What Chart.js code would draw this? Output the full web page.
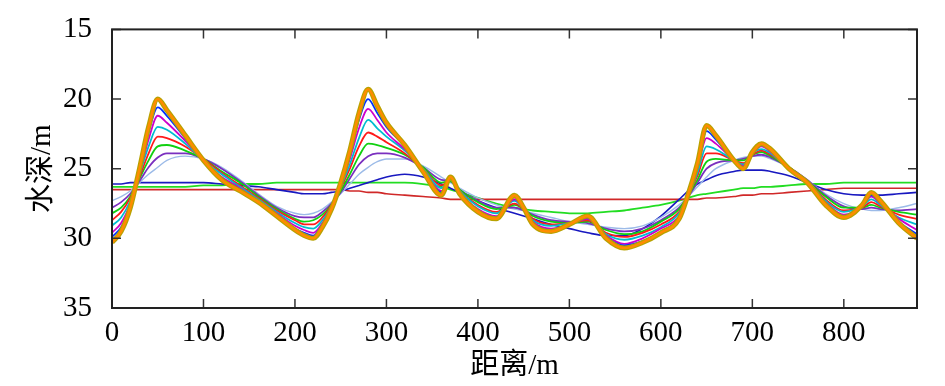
<!DOCTYPE html>
<html lang="zh-CN">

<head>
    <meta charset="UTF-8">
    <title>水深剖面</title>
    <style>
        body {
            margin: 0;
            padding: 0;
            background: #fff;
        }
    </style>
</head>

<body>
    <canvas id="depthChart" width="945" height="386"></canvas>
    <script src="https://cdn.jsdelivr.net/npm/chart.js"></script>
    <script>
        // 距离 (m)
        const distance = [0, 10, 20, 30, 40, 50, 60, 80, 100, 120, 140, 160, 180, 200, 210, 220, 230, 240, 250, 260,
            270, 280, 290, 300, 320, 340, 360, 370, 380, 400, 420, 440, 450, 460, 480, 500, 520, 540, 560, 580,
            600, 620, 630, 640, 650, 660, 680, 690, 700, 710, 720, 740, 760, 780, 800, 820, 830, 840, 860, 880];

        // 水深 (m), 从初始到最终
        const depthStart = [26.3, 26.3, 26.3, 26.3, 26.3, 26.3, 26.3, 26.3, 26.2, 26.2, 26.1, 26.1, 26.0, 26.0, 26.0, 26.0, 26.0, 26.0, 26.0, 26.0,
            26.0, 26.0, 26.0, 26.0, 26.0, 26.1, 26.3, 26.5, 26.7, 27.1, 27.5, 27.8, 27.9, 28.0, 28.1, 28.2, 28.2, 28.1, 28.0, 27.8,
            27.6, 27.3, 27.1, 26.9, 26.8, 26.7, 26.5, 26.4, 26.4, 26.3, 26.3, 26.2, 26.1, 26.1, 26.0, 26.0, 26.0, 26.0, 26.0, 26.0];
        const depthRed = [26.5, 26.5, 26.5, 26.5, 26.5, 26.5, 26.5, 26.5, 26.5, 26.5, 26.5, 26.5, 26.5, 26.5, 26.5, 26.5, 26.5, 26.5, 26.5, 26.6,
            26.6, 26.7, 26.7, 26.8, 26.9, 27.0, 27.1, 27.2, 27.2, 27.2, 27.2, 27.2, 27.2, 27.2, 27.2, 27.2, 27.2, 27.2, 27.2, 27.2,
            27.2, 27.2, 27.2, 27.2, 27.1, 27.1, 27.0, 26.9, 26.9, 26.8, 26.8, 26.7, 26.6, 26.5, 26.4, 26.4, 26.4, 26.4, 26.4, 26.4];
        const depthBlue = [26.1, 26.1, 26.0, 26.0, 26.0, 26.0, 26.0, 26.0, 26.0, 26.1, 26.2, 26.3, 26.5, 26.7, 26.8, 26.8, 26.8, 26.7, 26.6, 26.4,
            26.2, 26.0, 25.8, 25.6, 25.4, 25.6, 26.1, 26.4, 26.7, 27.3, 27.8, 28.2, 28.4, 28.6, 29.0, 29.3, 29.6, 29.8, 29.8, 29.3,
            28.4, 27.2, 26.6, 26.1, 25.8, 25.5, 25.2, 25.1, 25.1, 25.1, 25.2, 25.5, 26.0, 26.5, 26.8, 26.9, 26.9, 26.9, 26.8, 26.7];
        const depthLight = [27.3, 27.0, 26.6, 26.0, 25.4, 24.9, 24.4, 24.1, 24.3, 24.9, 25.8, 26.8, 27.7, 28.2, 28.3, 28.2, 27.9, 27.4, 26.8, 26.1,
            25.4, 24.9, 24.5, 24.3, 24.3, 24.8, 25.6, 26.0, 26.4, 27.1, 27.6, 27.9, 28.0, 28.2, 28.5, 28.8, 29.0, 29.2, 29.3, 29.1,
            28.5, 27.6, 27.0, 26.3, 25.6, 25.0, 24.4, 24.2, 24.1, 24.1, 24.3, 24.9, 25.8, 26.8, 27.5, 27.9, 28.0, 28.0, 27.8, 27.5];
        const depthStep1 = [27.8, 27.4, 26.8, 25.9, 24.9, 24.2, 23.9, 23.9, 24.3, 25.0, 25.9, 26.9, 27.8, 28.4, 28.5, 28.5, 28.1, 27.5, 26.7, 25.7,
            24.7, 24.1, 23.9, 23.9, 24.2, 24.9, 25.8, 25.9, 26.5, 27.3, 27.8, 27.8, 28.0, 28.3, 28.7, 28.8, 28.9, 29.3, 29.5, 29.3,
            28.7, 27.8, 27.0, 26.0, 25.0, 24.6, 24.4, 24.3, 24.1, 24.0, 24.2, 24.9, 25.8, 26.9, 27.7, 27.9, 27.8, 27.9, 28.0, 27.9];
        const depthStep2 = [28.2, 27.8, 27.0, 25.7, 24.4, 23.4, 23.3, 23.7, 24.3, 25.2, 26.0, 27.0, 27.9, 28.6, 28.8, 28.7, 28.3, 27.6, 26.6, 25.4,
            24.1, 23.2, 23.3, 23.5, 24.0, 24.9, 26.0, 25.9, 26.5, 27.4, 27.9, 27.6, 27.9, 28.4, 28.8, 28.9, 28.8, 29.4, 29.7, 29.5,
            28.8, 27.9, 26.9, 25.8, 24.5, 24.3, 24.4, 24.4, 24.0, 23.8, 24.1, 24.9, 25.9, 27.0, 27.8, 27.8, 27.6, 27.8, 28.1, 28.3];
        const depthStep3 = [28.7, 28.1, 27.1, 25.6, 23.9, 22.7, 22.8, 23.4, 24.3, 25.3, 26.2, 27.1, 28.0, 28.7, 29.0, 29.0, 28.5, 27.6, 26.4, 25.0,
            23.4, 22.4, 22.7, 23.1, 23.9, 25.0, 26.2, 25.8, 26.6, 27.6, 28.1, 27.5, 27.9, 28.6, 29.0, 28.9, 28.7, 29.6, 29.9, 29.6,
            29.0, 28.1, 26.9, 25.5, 23.9, 23.9, 24.4, 24.6, 24.0, 23.7, 24.0, 24.9, 25.9, 27.2, 28.0, 27.8, 27.4, 27.7, 28.3, 28.6];
        const depthStep4 = [29.1, 28.5, 27.3, 25.4, 23.4, 22.0, 22.2, 23.2, 24.4, 25.4, 26.3, 27.2, 28.1, 28.9, 29.2, 29.3, 28.7, 27.7, 26.3, 24.7,
            22.8, 21.5, 22.1, 22.7, 23.7, 25.0, 26.4, 25.8, 26.6, 27.7, 28.2, 27.3, 27.9, 28.7, 29.1, 28.9, 28.6, 29.7, 30.1, 29.8,
            29.2, 28.2, 26.9, 25.3, 23.4, 23.6, 24.4, 24.7, 23.9, 23.6, 23.9, 25.0, 25.9, 27.3, 28.1, 27.7, 27.2, 27.6, 28.5, 29.0];
        const depthStep5 = [29.6, 28.9, 27.5, 25.3, 22.9, 21.2, 21.7, 23.0, 24.4, 25.6, 26.4, 27.3, 28.2, 29.1, 29.4, 29.6, 28.9, 27.8, 26.2, 24.3,
            22.1, 20.7, 21.5, 22.4, 23.6, 25.1, 26.6, 25.7, 26.7, 27.9, 28.4, 27.2, 27.9, 28.8, 29.3, 29.0, 28.6, 29.8, 30.4, 30.0,
            29.3, 28.4, 26.9, 25.0, 22.8, 23.2, 24.4, 24.8, 23.9, 23.4, 23.8, 25.0, 26.0, 27.4, 28.3, 27.7, 27.0, 27.5, 28.6, 29.4];
        const depthStep6 = [29.9, 29.2, 27.7, 25.1, 22.4, 20.6, 21.2, 22.8, 24.4, 25.7, 26.5, 27.3, 28.3, 29.3, 29.6, 29.8, 29.0, 27.8, 26.1, 24.0,
            21.5, 20.0, 21.0, 22.0, 23.4, 25.2, 26.7, 25.6, 26.8, 28.0, 28.5, 27.0, 27.8, 28.9, 29.4, 29.0, 28.5, 29.9, 30.5, 30.2,
            29.5, 28.5, 26.8, 24.8, 22.3, 22.9, 24.4, 24.9, 23.8, 23.3, 23.7, 25.0, 26.0, 27.5, 28.4, 27.6, 26.9, 27.4, 28.8, 29.7];
        const depthFinal = [30.3, 29.5, 27.8, 25.0, 22.0, 20.0, 20.8, 22.6, 24.4, 25.8, 26.6, 27.4, 28.4, 29.4, 29.8, 30.0, 29.2, 27.9, 26.0, 23.7,
            21.0, 19.3, 20.5, 21.7, 23.3, 25.2, 26.9, 25.6, 26.8, 28.1, 28.6, 26.9, 27.8, 29.0, 29.5, 29.0, 28.4, 30.0, 30.7, 30.3,
            29.6, 28.6, 26.8, 24.6, 21.9, 22.6, 24.4, 25.0, 23.8, 23.2, 23.6, 25.0, 26.0, 27.6, 28.5, 27.6, 26.7, 27.3, 28.9, 30.0];

        const xTicks = [0, 100, 200, 300, 400, 500, 600, 700, 800];
        const yTicks = [15, 20, 25, 30, 35];

        const profiles = [
            { values: depthStart, color: '#22dd22', width: 1.8 },
            { values: depthRed, color: '#d02828', width: 1.6 },
            { values: depthBlue, color: '#1818c0', width: 1.6 },
            { values: depthLight, color: '#9cbbe8', width: 1.4 },
            { values: depthStep1, color: '#7a2fbf', width: 1.8 },
            { values: depthStep2, color: '#10d010', width: 1.8 },
            { values: depthStep3, color: '#ff1a1a', width: 1.8 },
            { values: depthStep4, color: '#00bcd0', width: 1.8 },
            { values: depthStep5, color: '#cc00cc', width: 1.8 },
            { values: depthStep6, color: '#0030ff', width: 1.8 },
            { values: depthFinal, color: '#b8a200', width: 5 },
            { values: depthFinal, color: '#ff8c00', width: 2.5 }
        ];

        const serif = "'Liberation Serif', 'Noto Sans CJK SC', serif";

        // 内向刻度和边框
        const frameTicks = {
            id: 'frameTicks',
            afterDatasetsDraw(chart) {
                const { ctx, chartArea: a, scales: { x, y } } = chart;
                ctx.save();
                ctx.strokeStyle = '#333';
                ctx.lineWidth = 1.5;
                ctx.beginPath();
                xTicks.forEach(v => {
                    const px = x.getPixelForValue(v);
                    ctx.moveTo(px, a.bottom);
                    ctx.lineTo(px, a.bottom - 9);
                    ctx.moveTo(px, a.top);
                    ctx.lineTo(px, a.top + 9);
                });
                yTicks.forEach(v => {
                    const py = y.getPixelForValue(v);
                    ctx.moveTo(a.left, py);
                    ctx.lineTo(a.left + 9, py);
                    ctx.moveTo(a.right, py);
                    ctx.lineTo(a.right - 9, py);
                });
                ctx.stroke();
                ctx.lineWidth = 2;
                ctx.strokeStyle = '#222';
                ctx.strokeRect(a.left, a.top, a.width, a.height);
                ctx.restore();
            }
        };

        new Chart(document.getElementById('depthChart'), {
            type: 'line',
            data: {
                datasets: profiles.map((p, i) => ({
                    data: distance.map((d, k) => ({ x: d, y: p.values[k] })),
                    borderColor: p.color,
                    borderWidth: p.width,
                    pointRadius: 0,
                    fill: false,
                    cubicInterpolationMode: 'monotone',
                    order: profiles.length - i
                }))
            },
            options: {
                responsive: false,
                animation: false,
                layout: {
                    autoPadding: false,
                    padding: { left: 0, right: 28, top: 15, bottom: 0 }
                },
                plugins: {
                    legend: { display: false },
                    tooltip: { enabled: false }
                },
                scales: {
                    x: {
                        type: 'linear',
                        min: 0,
                        max: 880,
                        grid: { display: false },
                        border: { display: false },
                        afterFit: scale => { scale.height = 78; },
                        afterBuildTicks: scale => { scale.ticks = xTicks.map(v => ({ value: v })); },
                        ticks: {
                            color: '#000',
                            padding: 0,
                            maxRotation: 0,
                            font: { family: serif, size: 29 }
                        },
                        title: {
                            display: true,
                            text: '距离/m',
                            color: '#000',
                            padding: { top: 0, bottom: 2 },
                            font: { family: serif, size: 29, lineHeight: 1.2 }
                        }
                    },
                    y: {
                        min: 15,
                        max: 35,
                        reverse: true,
                        grid: { display: false },
                        border: { display: false },
                        afterFit: scale => { scale.width = 112; },
                        afterBuildTicks: scale => { scale.ticks = yTicks.map(v => ({ value: v })); },
                        ticks: {
                            color: '#000',
                            padding: 12,
                            font: { family: serif, size: 29 }
                        },
                        title: {
                            display: true,
                            text: '水深/m',
                            color: '#000',
                            padding: { top: 25, bottom: 0 },
                            font: { family: serif, size: 29, lineHeight: 1.2 }
                        }
                    }
                }
            },
            plugins: [frameTicks]
        });
    </script>
</body>

</html>
